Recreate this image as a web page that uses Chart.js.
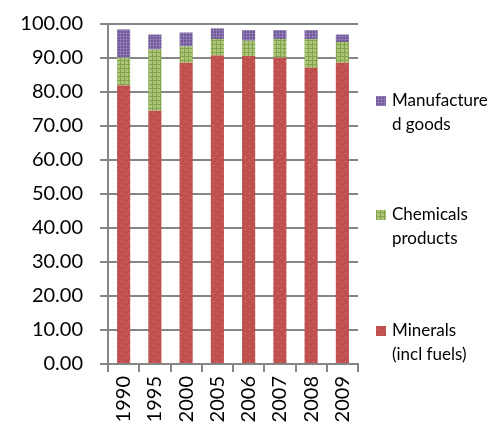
<!DOCTYPE html>
<html><head><meta charset="utf-8">
<script src="https://cdn.jsdelivr.net/npm/chart.js@4"></script>
<style>html,body{margin:0;padding:0;background:#fff}#wrap{width:491px;height:428px}</style>
</head><body><div id="wrap"><canvas id="c" width="491" height="428"></canvas></div>
<script>
const years = ['1990','1995','2000','2005','2006','2007','2008','2009'];
const minerals = [81.9, 74.5, 88.6, 90.7, 90.6, 90.1, 87.1, 88.6];
const chemicals = [8.2, 18.0, 4.8, 4.9, 4.5, 5.5, 8.5, 6.1];
const manufactured = [8.3, 4.4, 4.1, 3.1, 3.1, 2.6, 2.6, 2.2];
const yTicks = [0,10,20,30,40,50,60,70,80,90,100];
const seriesNames = [['Minerals','(incl fuels)'], ['Chemicals','products'], ['Manufacture','d goods']];

function tile(w, h, draw) {
  const c = document.createElement('canvas'); c.width = w; c.height = h;
  const x = c.getContext('2d'); draw(x);
  return document.getElementById('c').getContext('2d').createPattern(c, 'repeat');
}
const redPat = tile(8, 8, x => {
  x.fillStyle = '#C0504D'; x.fillRect(0,0,8,8);
  x.fillStyle = '#DB8C8A'; x.fillRect(1,1,1,1); x.fillRect(5,5,1,1);
});
const greenPat = tile(4, 4, x => {
  x.fillStyle = '#ABC67A'; x.fillRect(0,0,4,4);
  x.fillStyle = '#84A34B'; x.fillRect(0,0,4,1); x.fillRect(0,0,1,4);
});
const purplePat = tile(3, 3, x => {
  x.fillStyle = '#6F5696'; x.fillRect(0,0,3,3);
  x.fillStyle = '#8E7BB3'; x.fillRect(0,0,3,1); x.fillRect(0,0,1,3);
});
const pats = [redPat, greenPat, purplePat];

const legendPlugin = {
  id: 'sideLegend',
  afterDraw(chart) {
    const ctx = chart.ctx;
    const ys = [331, 215, 101];
    ctx.save();
    ctx.font = '17px Lato';
    ctx.textBaseline = 'middle';
    seriesNames.forEach((lines, i) => {
      const y = ys[i];
      ctx.fillStyle = pats[i];
      ctx.fillRect(376, y - 5, 10, 10);
      ctx.fillStyle = '#000';
      lines.forEach((t, k) => ctx.fillText(t, 392, y + k * 24));
    });
    ctx.restore();
  }
};

new Chart(document.getElementById('c'), {
  type: 'bar',
  data: {
    labels: years,
    datasets: [
      { label: 'Minerals (incl fuels)', data: minerals, backgroundColor: redPat },
      { label: 'Chemicals products', data: chemicals, backgroundColor: greenPat },
      { label: 'Manufactured goods', data: manufactured, backgroundColor: purplePat }
    ]
  },
  options: {
    responsive: false,
    animation: false,
    layout: { padding: { top: 0, right: 133, left: 0, bottom: 0 } },
    plugins: { legend: { display: false }, tooltip: { enabled: false } },
    datasets: { bar: { barPercentage: 0.42, categoryPercentage: 1 } },
    scales: {
      x: {
        stacked: true,
        grid: { drawOnChartArea: false, drawTicks: true, tickLength: 8, color: '#868686', lineWidth: 2, offset: true },
        border: { color: '#868686', width: 2 },
        ticks: { color: '#000', font: { family: 'Lato', size: 20 }, minRotation: 90, maxRotation: 90, padding: 4 },
        afterFit(s) { s.height = 64; }
      },
      y: {
        stacked: true,
        min: 0, max: 100,
        afterBuildTicks(s) { s.ticks = yTicks.map(v => ({ value: v })); },
        grid: { color: '#868686', lineWidth: 2, tickLength: 8 },
        border: { color: '#868686', width: 2 },
        ticks: { color: '#000', font: { family: 'Lato', size: 20, lineHeight: 0.7 }, padding: 17, callback: v => Number(v).toFixed(2) },
        afterFit(s) { s.width = 108; }
      }
    }
  },
  plugins: [legendPlugin]
});
</script></body></html>
